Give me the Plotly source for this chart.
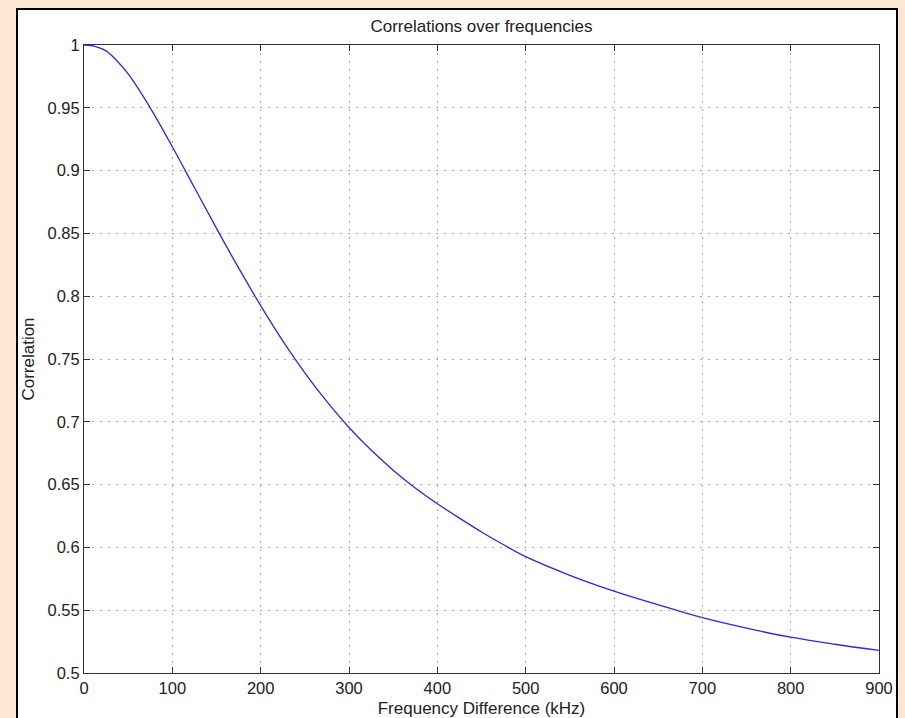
import plotly.graph_objects as go

# Data
freq_khz = [0, 12.5, 25, 37.5, 50, 75, 100, 125, 150, 175, 200, 225, 250, 275, 300,
            325, 350, 375, 400, 425, 450, 475, 500, 550, 600, 650, 700, 750, 800, 850, 900]
correlation = [1.000, 0.9990, 0.9953, 0.9873, 0.977, 0.950, 0.919, 0.8865, 0.854, 0.8225,
               0.7925, 0.7645, 0.739, 0.716, 0.6955, 0.6775, 0.6615, 0.6473, 0.6348,
               0.6233, 0.6123, 0.6021, 0.5926, 0.5778, 0.5652, 0.5543, 0.5440, 0.5357,
               0.5285, 0.5229, 0.5180]

x_ticks = [0, 100, 200, 300, 400, 500, 600, 700, 800, 900]
y_ticks = [0.5, 0.55, 0.6, 0.65, 0.7, 0.75, 0.8, 0.85, 0.9, 0.95, 1.0]
y_tick_labels = ["0.5", "0.55", "0.6", "0.65", "0.7", "0.75", "0.8", "0.85", "0.9", "0.95", "1"]

W, H = 905, 718
L, R, T, B = 84, 26, 45, 45
pw, ph = W - L - R, H - T - B

FONT = "Liberation Sans, Arial, Helvetica, sans-serif"
PAGE_BG = "#fce7d3"
TXT = "#222222"

fig = go.Figure()
fig.add_trace(go.Scatter(
    x=freq_khz, y=correlation, mode="lines",
    line=dict(color="#2626ff", width=1.3, shape="spline", smoothing=1.0),
    showlegend=False, hoverinfo="x+y",
))

axis_common = dict(
    showline=True, linecolor="#333333", linewidth=1.2, mirror="ticks",
    ticks="inside", ticklen=6, tickcolor="#333333", tickwidth=1.2,
    showgrid=True, gridcolor="#a8a8a8", gridwidth=1, griddash="2px,6px",
    zeroline=False, tickfont=dict(family=FONT, size=16.5, color=TXT),
)

fig.update_xaxes(
    range=[0, 900], tickvals=x_ticks, ticktext=[str(v) for v in x_ticks],
    title=dict(text="Frequency Difference (kHz)", standoff=8,
               font=dict(family=FONT, size=17, color=TXT)),
    **axis_common,
)
fig.update_yaxes(
    range=[0.5, 1.0], tickvals=y_ticks, ticktext=y_tick_labels,
    title=dict(text="Correlation", standoff=8,
               font=dict(family=FONT, size=17, color=TXT)),
    **axis_common,
)

# white figure panel with black frame, on the beige page
fig.add_shape(
    type="rect", xref="paper", yref="paper", layer="below",
    x0=(17 - L) / pw, x1=(897 - L) / pw,
    y0=(H - B - 730) / ph, y1=(H - B - 9) / ph,
    fillcolor="white", line=dict(color="black", width=2),
)

fig.update_layout(
    width=W, height=H,
    margin=dict(l=L, r=R, t=T, b=B, autoexpand=False),
    paper_bgcolor=PAGE_BG, plot_bgcolor="white",
    title=dict(text="Correlations over frequencies", x=(L + pw / 2) / W, xanchor="center",
               y=1 - 26 / H, yanchor="middle",
               font=dict(family=FONT, size=17, color=TXT)),
    font=dict(family=FONT),
)

fig.write_html(
    "out.html",
    config={"displayModeBar": False},
    post_script="document.body.style.margin='0';document.body.style.background='%s';" % PAGE_BG,
)
